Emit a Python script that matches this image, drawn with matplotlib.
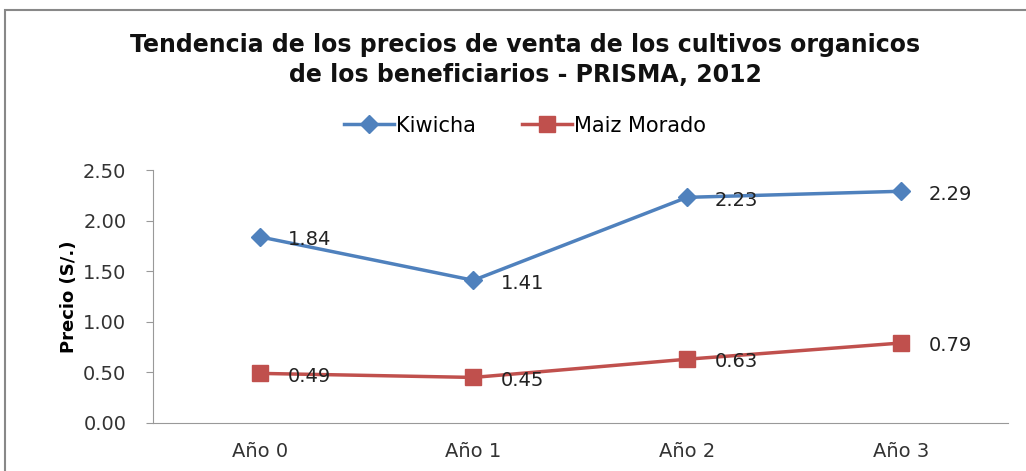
import matplotlib.pyplot as plt
from matplotlib.patches import Rectangle

years = ["Año 0", "Año 1", "Año 2", "Año 3"]
kiwicha = [1.84, 1.41, 2.23, 2.29]
maiz_morado = [0.49, 0.45, 0.63, 0.79]

title_font = ["DejaVu Sans Condensed", "Liberation Sans Narrow", "DejaVu Sans"]

fig = plt.figure(figsize=(10.26, 4.71), dpi=100)
ax = fig.add_axes([0.149, 0.102, 0.833, 0.537])

x = [i + 0.5 for i in range(len(years))]
ax.plot(x, kiwicha, color="#4F81BD", lw=2.5, marker="D", ms=9, label="Kiwicha")
ax.plot(x, maiz_morado, color="#C0504D", lw=2.5, marker="s", ms=11, label="Maiz Morado")

for xi, v in zip(x, kiwicha):
    ax.annotate(f"{v:.2f}", (xi, v), xytext=(20, -2), textcoords="offset points",
                va="center", ha="left", fontsize=14, color="#222222")
for xi, v in zip(x, maiz_morado):
    ax.annotate(f"{v:.2f}", (xi, v), xytext=(20, -2), textcoords="offset points",
                va="center", ha="left", fontsize=14, color="#222222")

ax.set_xlim(0, 4)
ax.set_ylim(0, 2.5)
ax.set_yticks([0, 0.5, 1.0, 1.5, 2.0, 2.5])
ax.set_yticklabels([f"{t:.2f}" for t in [0, 0.5, 1.0, 1.5, 2.0, 2.5]])
ax.set_xticks(x)
ax.set_xticklabels(years)
ax.tick_params(axis="y", length=5, color="#999999", labelsize=14, labelcolor="#333333", pad=14)
ax.tick_params(axis="x", length=0, labelsize=14, labelcolor="#333333", pad=14)
for s in ["top", "right"]:
    ax.spines[s].set_visible(False)
for s in ["left", "bottom"]:
    ax.spines[s].set_color("#999999")
ax.set_ylabel("Precio (S/.)", fontsize=13, fontweight="bold", family=title_font, labelpad=4)

fig.text(0.512, 0.872, "Tendencia de los precios de venta de los cultivos organicos\nde los beneficiarios - PRISMA, 2012",
         ha="center", va="center", fontsize=17, fontweight="bold", family=title_font,
         linespacing=1.3, color="#111111")

ax.legend(loc="center", bbox_to_anchor=(0.435, 1.175), ncol=2, frameon=False,
          prop={"family": title_font, "size": 15}, handlelength=2.4, columnspacing=2.2,
          handletextpad=0.1)

fig.patches.append(Rectangle((0.005, -0.1), 1.2, 1.078, transform=fig.transFigure,
                             fill=False, edgecolor="#888888", lw=1.5))

fig.savefig("out.png", dpi=100)
